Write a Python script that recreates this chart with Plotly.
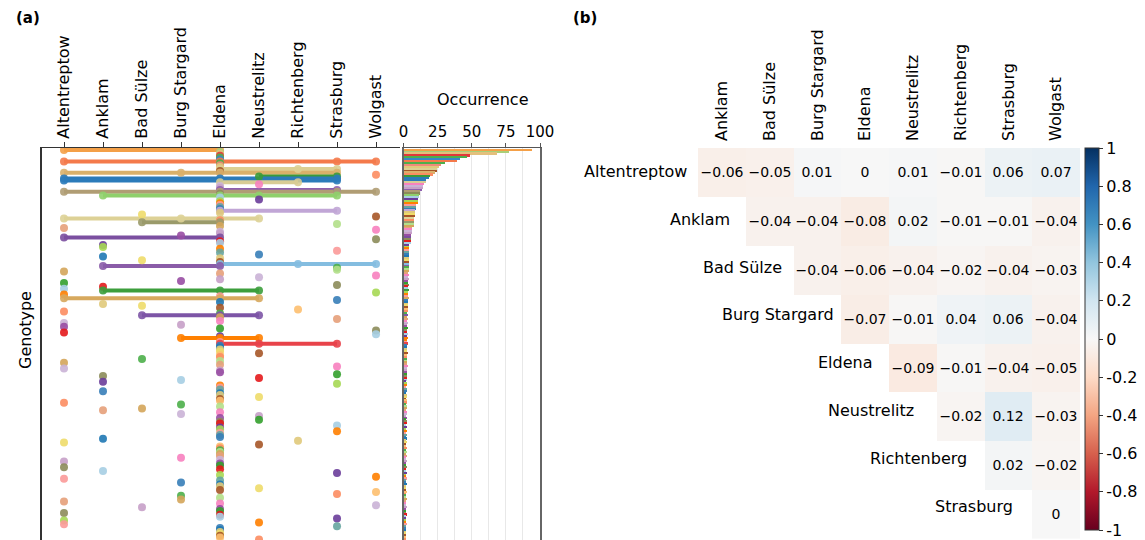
import plotly.graph_objects as go

# ---------------------------------------------------------------- data
sites = ["Altentreptow", "Anklam", "Bad Sülze", "Burg Stargard", "Eldena",
         "Neustrelitz", "Richtenberg", "Strasburg", "Wolgast"]

# Genotypes from top to bottom; each digit is an index into `sites`
# marking a site where the genotype was found.
genotype_sites = [
    "04", "4", "4", "4", "4", "4", "0478", "4", "4", "4",          # 0-9
    "467", "4", "0347", "8", "57", "047", "07", "46", "5", "4",     # 10-19
    "4", "47", "0478", "4", "1457", "4", "5", "4", "4", "4",        # 20-29
    "4", "4", "47", "4", "2", "8", "0345", "4", "24", "7",          # 30-39
    "4", "0", "8", "4", "4", "3", "04", "8", "4", "4",              # 40-49
    "1", "1", "4", "7", "4", "5", "1", "4", "2", "4",               # 50-59
    "468", "14", "7", "7", "0", "4", "8", "5", "4", "3",            # 60-69
    "0", "7", "1", "0", "145", "8", "0", "4", "045", "7",           # 70-79
    "4", "1", "2", "4", "6", "0", "4", "245", "4", "7",             # 80-89
    "4", "0", "3", "0", "4", "8", "0", "8", "4", "345",             # 90-99
    "4", "4", "457", "4", "4", "4", "4", "5", "4", "4",             # 100-109
    "2", "4", "0", "4", "7", "0", "4", "4", "7", "1",               # 110-119
    "5", "3", "1", "7", "4", "4", "4", "1", "4", "4",               # 120-129
    "5", "4", "4", "0", "3", "4", "2", "1", "4", "3",               # 130-139
    "5", "4", "5", "4", "4", "7", "4", "4", "7", "4",               # 140-149
    "4", "4", "1", "6", "0", "5", "4", "4", "4", "4",               # 150-159
    "4", "4", "3", "4", "0", "4", "4", "0", "4", "1",               # 160-169
    "7", "4", "8", "0", "4", "3", "4", "4", "5", "4",               # 170-179
    "8", "7", "3", "4", "3", "0", "4", "8", "2", "4",               # 180-189
    "4", "0", "4", "4", "7", "0", "5", "0", "7", "4",               # 190-199
    "4", "4", "4", "4", "4", "5",                                   # 200-205
]

# Number of occurrences of each genotype (same order as above)
occurrence = [
    94, 77, 68, 48, 46, 41, 39, 30, 27, 26,
    24, 24, 23, 21, 19, 18, 16, 16, 15, 14,
    14, 13, 12, 12, 11, 11, 10, 10, 10, 9,
    9, 9, 8, 8, 8, 8, 7, 7, 7, 7,
    7, 6, 6, 6, 6, 5, 5, 5, 5, 5,
    4, 4, 4, 4, 4, 4, 4, 4, 4, 4,
    4, 4, 4, 4, 4, 3, 4, 3, 4, 3,
    3, 4, 3, 3, 4, 3, 3, 3, 4, 3,
    3, 3, 3, 3, 3, 3, 2, 3, 2, 3,
    2, 3, 2, 2, 3, 2, 2, 3, 2, 3,
    2, 2, 3, 2, 2, 2, 2, 3, 2, 2,
    2, 2, 2, 2, 3, 2, 2, 2, 2, 2,
    2, 2, 1, 2, 2, 1, 2, 2, 1, 2,
    2, 1, 2, 2, 1, 2, 2, 1, 2, 2,
    1, 2, 1, 2, 2, 1, 2, 1, 2, 1,
    2, 1, 2, 1, 2, 1, 1, 2, 1, 2,
    1, 2, 1, 1, 2, 1, 1, 2, 1, 1,
    2, 1, 1, 2, 1, 1, 2, 1, 1, 1,
    2, 1, 1, 1, 2, 1, 1, 1, 2, 1,
    1, 1, 2, 1, 1, 1, 1, 2, 1, 1,
    1, 1, 1, 1, 1, 1,
]

# Pairwise correlation between sites (upper triangle, row site vs column site)
corr_row_sites = sites[:8]
corr_col_sites = sites[1:]
corr_values = [
    [-0.06, -0.05, 0.01, 0.00, 0.01, -0.01, 0.06, 0.07],
    [None, -0.04, -0.04, -0.08, 0.02, -0.01, -0.01, -0.04],
    [None, None, -0.04, -0.06, -0.04, -0.02, -0.04, -0.03],
    [None, None, None, -0.07, -0.01, 0.04, 0.06, -0.04],
    [None, None, None, None, -0.09, -0.01, -0.04, -0.05],
    [None, None, None, None, None, -0.02, 0.12, -0.03],
    [None, None, None, None, None, None, 0.02, -0.02],
    [None, None, None, None, None, None, None, 0.00],
]

colorbar_ticks = [1, 0.8, 0.6, 0.4, 0.2, 0, -0.2, -0.4, -0.6, -0.8, -1]

# ---------------------------------------------------------------- styles
palette = [
    "#e41a1c", "#377eb8", "#4daf4a", "#984ea3", "#ff7f00", "#a65628",
    "#f781bf", "#a6cee3", "#1f78b4", "#b2df8a", "#33a02c", "#fb9a99",
    "#fdbf6f", "#cab2d6", "#6a3d9a", "#e0c97a", "#d4a55a", "#8c8c5a",
    "#66a5a0", "#fc8d62", "#c7a0c8", "#a6d854", "#eedc6a", "#e5a07a",
]
fixed_colors = {
    0: "#f4a048", 1: "#a9cf78", 2: "#e3c07c", 3: "#e2383a", 4: "#4fae4c",
    5: "#3a86c8", 7: "#4daf4a", 8: "#f08a7a",
    6: "#f47a4b", 10: "#dccf93", 12: "#d9b06a", 14: "#3a9a3a",
    15: "#2b7bba", 16: "#2b7bba", 17: "#d8cc94", 21: "#8e5fad", 22: "#b09d74",
    24: "#8fd06b", 32: "#c1a6d6", 36: "#ddd196", 38: "#9a9a6a", 46: "#7b4fa0",
    60: "#84bde0", 61: "#8a5ca8", 74: "#3c9e3c", 78: "#d7a95e", 87: "#7d55a6",
    99: "#ff8000", 102: "#e8434a",
}
row_colors = [fixed_colors.get(i, palette[(i * 7) % len(palette)])
              for i in range(len(genotype_sites))]

# right edge (page px) of each heatmap row label
row_label_right = [689, 732, 784, 836, 875, 916, 969, 1015]

FONT = "DejaVu Sans"
W, H = 1145, 540


def px(x):
    return x / W


def py(y):
    return 1 - y / H


corr_scale = [
    [0.0, "rgb(103,0,31)"], [0.1, "rgb(178,24,43)"], [0.2, "rgb(214,96,77)"],
    [0.3, "rgb(244,165,130)"], [0.4, "rgb(253,219,199)"], [0.5, "rgb(247,247,247)"],
    [0.6, "rgb(209,229,240)"], [0.7, "rgb(146,197,222)"], [0.8, "rgb(67,147,195)"],
    [0.9, "rgb(33,102,172)"], [1.0, "rgb(5,48,97)"],
]

fig = go.Figure()

# ---------------------------------------------------------------- (a) genotype dots
rows_idx = [[int(c) for c in s] for s in genotype_sites]

for i, idx in enumerate(rows_idx):
    if len(idx) > 1:
        fig.add_trace(go.Scatter(
            x=[min(idx), max(idx)], y=[i, i], mode="lines",
            line=dict(color=row_colors[i], width=4),
            xaxis="x", yaxis="y", hoverinfo="skip",
        ))

dot_x, dot_y, dot_c = [], [], []
for i, idx in enumerate(rows_idx):
    for s in idx:
        dot_x.append(s)
        dot_y.append(i)
        dot_c.append(row_colors[i])

fig.add_trace(go.Scatter(
    x=dot_x, y=dot_y, mode="markers",
    marker=dict(color=dot_c, size=8, opacity=0.9, line=dict(width=0)),
    xaxis="x", yaxis="y",
))

# occurrence bars
fig.add_trace(go.Bar(
    x=occurrence, y=list(range(len(occurrence))), orientation="h",
    marker=dict(color=row_colors, line=dict(width=0)), width=0.9,
    xaxis="x2", yaxis="y2",
))

# ---------------------------------------------------------------- (b) correlation heatmap


def fmt(v):
    if v is None:
        return ""
    if v == 0:
        return "0"
    return f"{v:.2f}".replace("-", "\u2212")


fig.add_trace(go.Heatmap(
    z=corr_values, x=list(range(1, 9)), y=list(range(8)),
    text=[[fmt(v) for v in r] for r in corr_values],
    texttemplate="%{text}", textfont=dict(size=14, color="black", family=FONT),
    colorscale=corr_scale, zmin=-1, zmax=1, xgap=0, ygap=0,
    xaxis="x3", yaxis="y3", hoverongaps=False,
    colorbar=dict(
        x=px(1085), xanchor="left", xpad=0, y=py(148), yanchor="top", ypad=0,
        len=382 / H, lenmode="fraction", thickness=14,
        outlinecolor="#333", outlinewidth=1,
        tickvals=colorbar_ticks, ticktext=[str(t) for t in colorbar_ticks],
        ticks="outside", ticklen=4, tickcolor="#333",
        ticklabeloverflow="allow",
        tickfont=dict(size=16, family=FONT, color="black"),
    ),
))

row_annotations = [
    dict(x=px(row_label_right[r]), y=r, xref="paper", yref="y3", text=name,
         showarrow=False, xanchor="right", yanchor="middle", yshift=1 + r,
         font=dict(size=16, family=FONT, color="black"))
    for r, name in enumerate(corr_row_sites)
]

row_px = 1.9
y_top = -2 / row_px
y_bottom = y_top + (540 - 148) / row_px

fig.update_layout(
    width=W, height=H,
    margin=dict(l=0, r=0, t=0, b=0, autoexpand=False),
    paper_bgcolor="white", plot_bgcolor="white",
    showlegend=False, bargap=0,
    font=dict(family=FONT, color="black"),
    xaxis=dict(
        domain=[px(42), px(400)], range=[-0.564, 8.615], anchor="y", side="top",
        tickvals=list(range(9)), ticktext=sites, tickangle=-90,
        ticks="outside", ticklen=5, tickcolor="#333", tickwidth=1,
        showline=True, linecolor="#333", linewidth=1.3,
        showgrid=False, zeroline=False, tickfont=dict(size=16),
        automargin=False,
    ),
    yaxis=dict(
        domain=[0, py(148)], range=[y_bottom, y_top], anchor="x",
        showline=True, linecolor="#333", linewidth=2,
        showticklabels=False, showgrid=False, zeroline=False, ticks="",
        automargin=False,
    ),
    xaxis2=dict(
        domain=[px(403.5), px(540)], range=[0, 100], anchor="y2", side="top",
        tick0=0, dtick=25, ticks="outside", ticklen=4, tickcolor="#555",
        showline=True, linecolor="#555", linewidth=1.3,
        showgrid=True, gridcolor="#e8e8e8", zeroline=False,
        minor=dict(dtick=12.5, showgrid=True, gridcolor="#e8e8e8", ticks=""),
        tickfont=dict(size=15), automargin=False,
    ),
    yaxis2=dict(
        domain=[0, py(148)], matches="y", anchor="x2",
        showline=True, mirror=True, linecolor="#666", linewidth=2,
        showticklabels=False, showgrid=False, zeroline=False, ticks="",
        automargin=False,
    ),
    xaxis3=dict(
        domain=[px(698), px(1080)], range=[0.5, 8.5], anchor="y3", side="top",
        tickvals=list(range(1, 9)), ticktext=corr_col_sites, tickangle=-90,
        ticks="", showline=False, showgrid=False, zeroline=False,
        tickfont=dict(size=16), ticklabelstandoff=6, automargin=False,
    ),
    yaxis3=dict(
        domain=[py(538.5), py(148)], range=[7.5, -0.5], anchor="x3",
        visible=False,
    ),
    annotations=[
        dict(x=px(14), y=py(18), xref="paper", yref="paper", text="<b>(a)</b>",
             showarrow=False, xanchor="left", yanchor="middle", font=dict(size=15)),
        dict(x=px(571), y=py(18), xref="paper", yref="paper", text="<b>(b)</b>",
             showarrow=False, xanchor="left", yanchor="middle", font=dict(size=15)),
        dict(x=px(25), y=py(330), xref="paper", yref="paper", text="Genotype",
             showarrow=False, textangle=-90, xanchor="center", yanchor="middle",
             font=dict(size=16)),
        dict(x=px(482), y=py(99), xref="paper", yref="paper", text="Occurrence",
             showarrow=False, xanchor="center", yanchor="middle", font=dict(size=16)),
    ] + row_annotations,
)

fig.write_html("out.html")
